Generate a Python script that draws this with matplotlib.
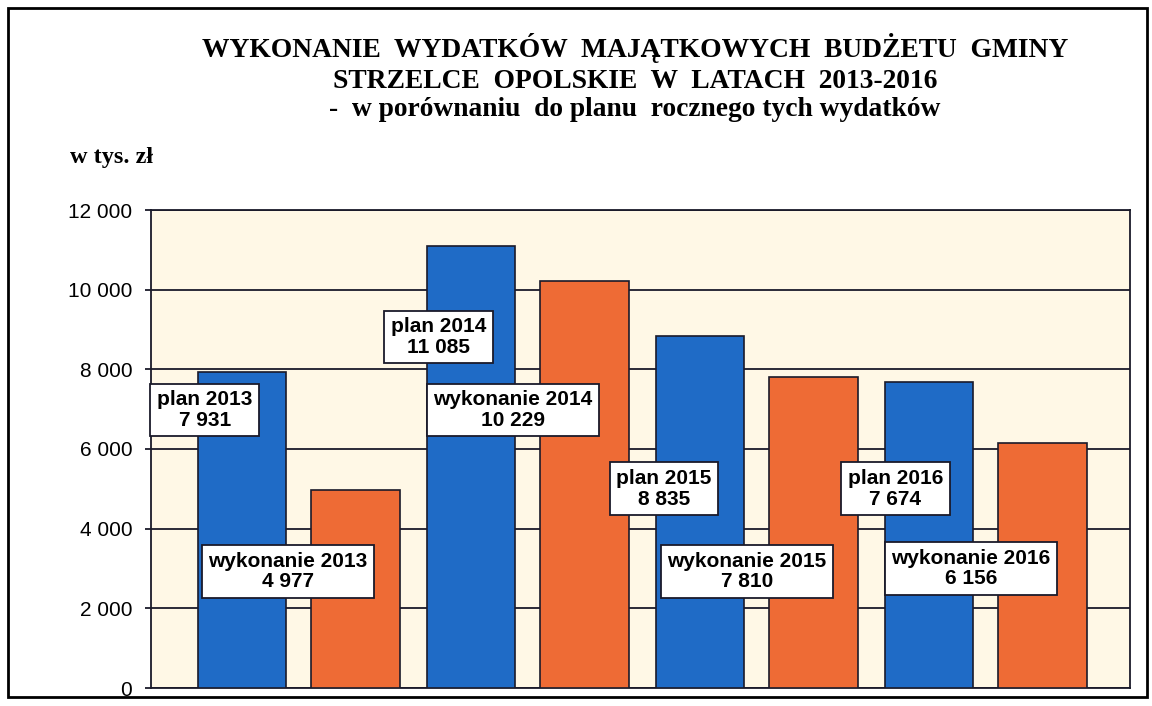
import matplotlib
matplotlib.use("Agg")
import matplotlib.pyplot as plt
from matplotlib.patches import Rectangle

years = ["2013", "2014", "2015", "2016"]
plan = [7931, 11085, 8835, 7674]
wykonanie = [4977, 10229, 7810, 6156]
yticks = [0, 2000, 4000, 6000, 8000, 10000, 12000]
title_lines = ["WYKONANIE  WYDATKÓW  MAJĄTKOWYCH  BUDŻETU  GMINY",
               "STRZELCE  OPOLSKIE  W  LATACH  2013-2016",
               "-  w porównaniu  do planu  rocznego tych wydatków"]
unit_label = "w tys. zł"

# label anchor positions (data coords) for the callout boxes
plan_label_pos = [(-0.41, 6980), (0.61, 8810), (1.595, 5000), (2.605, 5000)]
wyk_label_pos = [(-0.047, 2920), (0.936, 6980), (1.957, 2920), (2.936, 3000)]

def fmt(v):
    return f"{v:,}".replace(",", " ")

BLUE = "#1F6BC6"
ORANGE = "#EE6B35"
BG = "#FFF8E6"
DARK = "#1a1a2a"

fig = plt.figure(figsize=(11.52, 7.06), dpi=100)
fig.patch.set_facecolor("white")
ax = fig.add_axes([151/1152, 1-688/706, 979/1152, 478/706])
ax.set_facecolor(BG)

x = list(range(len(years)))
off = 0.248
w = 0.385
ax.bar([i - off for i in x], plan, width=w, color=BLUE, edgecolor=DARK, linewidth=1.2, zorder=3)
ax.bar([i + off for i in x], wykonanie, width=w, color=ORANGE, edgecolor=DARK, linewidth=1.2, zorder=3)

ax.set_xlim(-0.645, 3.63)
ax.set_ylim(0, 12000)
ax.set_yticks(yticks)
ax.set_yticklabels([fmt(v) for v in yticks], fontfamily="Liberation Sans", fontsize=15)
ax.set_xticks([])
ax.yaxis.grid(True, color=DARK, linewidth=1.3, zorder=1)
ax.tick_params(axis="y", length=4.5, width=1.3, color=DARK, pad=9)
for s in ax.spines.values():
    s.set_color(DARK)
    s.set_linewidth(1.3)

box = dict(boxstyle="square,pad=0.32", facecolor="white", edgecolor=DARK, linewidth=1.3)
for i, y in enumerate(years):
    px, py = plan_label_pos[i]
    ax.text(px, py, f"plan {y}\n{fmt(plan[i])}", ha="center", va="center",
            fontfamily="Liberation Sans", fontweight="bold", fontsize=15,
            linespacing=1.1, bbox=box, zorder=5)
    wx, wy = wyk_label_pos[i]
    ax.text(wx, wy, f"wykonanie {y}\n{fmt(wykonanie[i])}", ha="center", va="center",
            fontfamily="Liberation Sans", fontweight="bold", fontsize=15,
            linespacing=1.1, bbox=box, zorder=5)

title_y = [48, 81, 110]
for t, yy in zip(title_lines, title_y):
    fig.text(635/1152, 1-yy/706, t, ha="center", va="center",
             fontfamily="Liberation Serif", fontweight="bold", fontsize=19.8)
fig.text(70/1152, 1-157/706, unit_label, ha="left", va="center",
         fontfamily="Liberation Serif", fontweight="bold", fontsize=17.5)

fig.patches.append(Rectangle((8/1152, 1-697/706), 1139/1152, 689/706,
                             transform=fig.transFigure, fill=False,
                             edgecolor="black", linewidth=2))

fig.savefig("out.png", dpi=100)
